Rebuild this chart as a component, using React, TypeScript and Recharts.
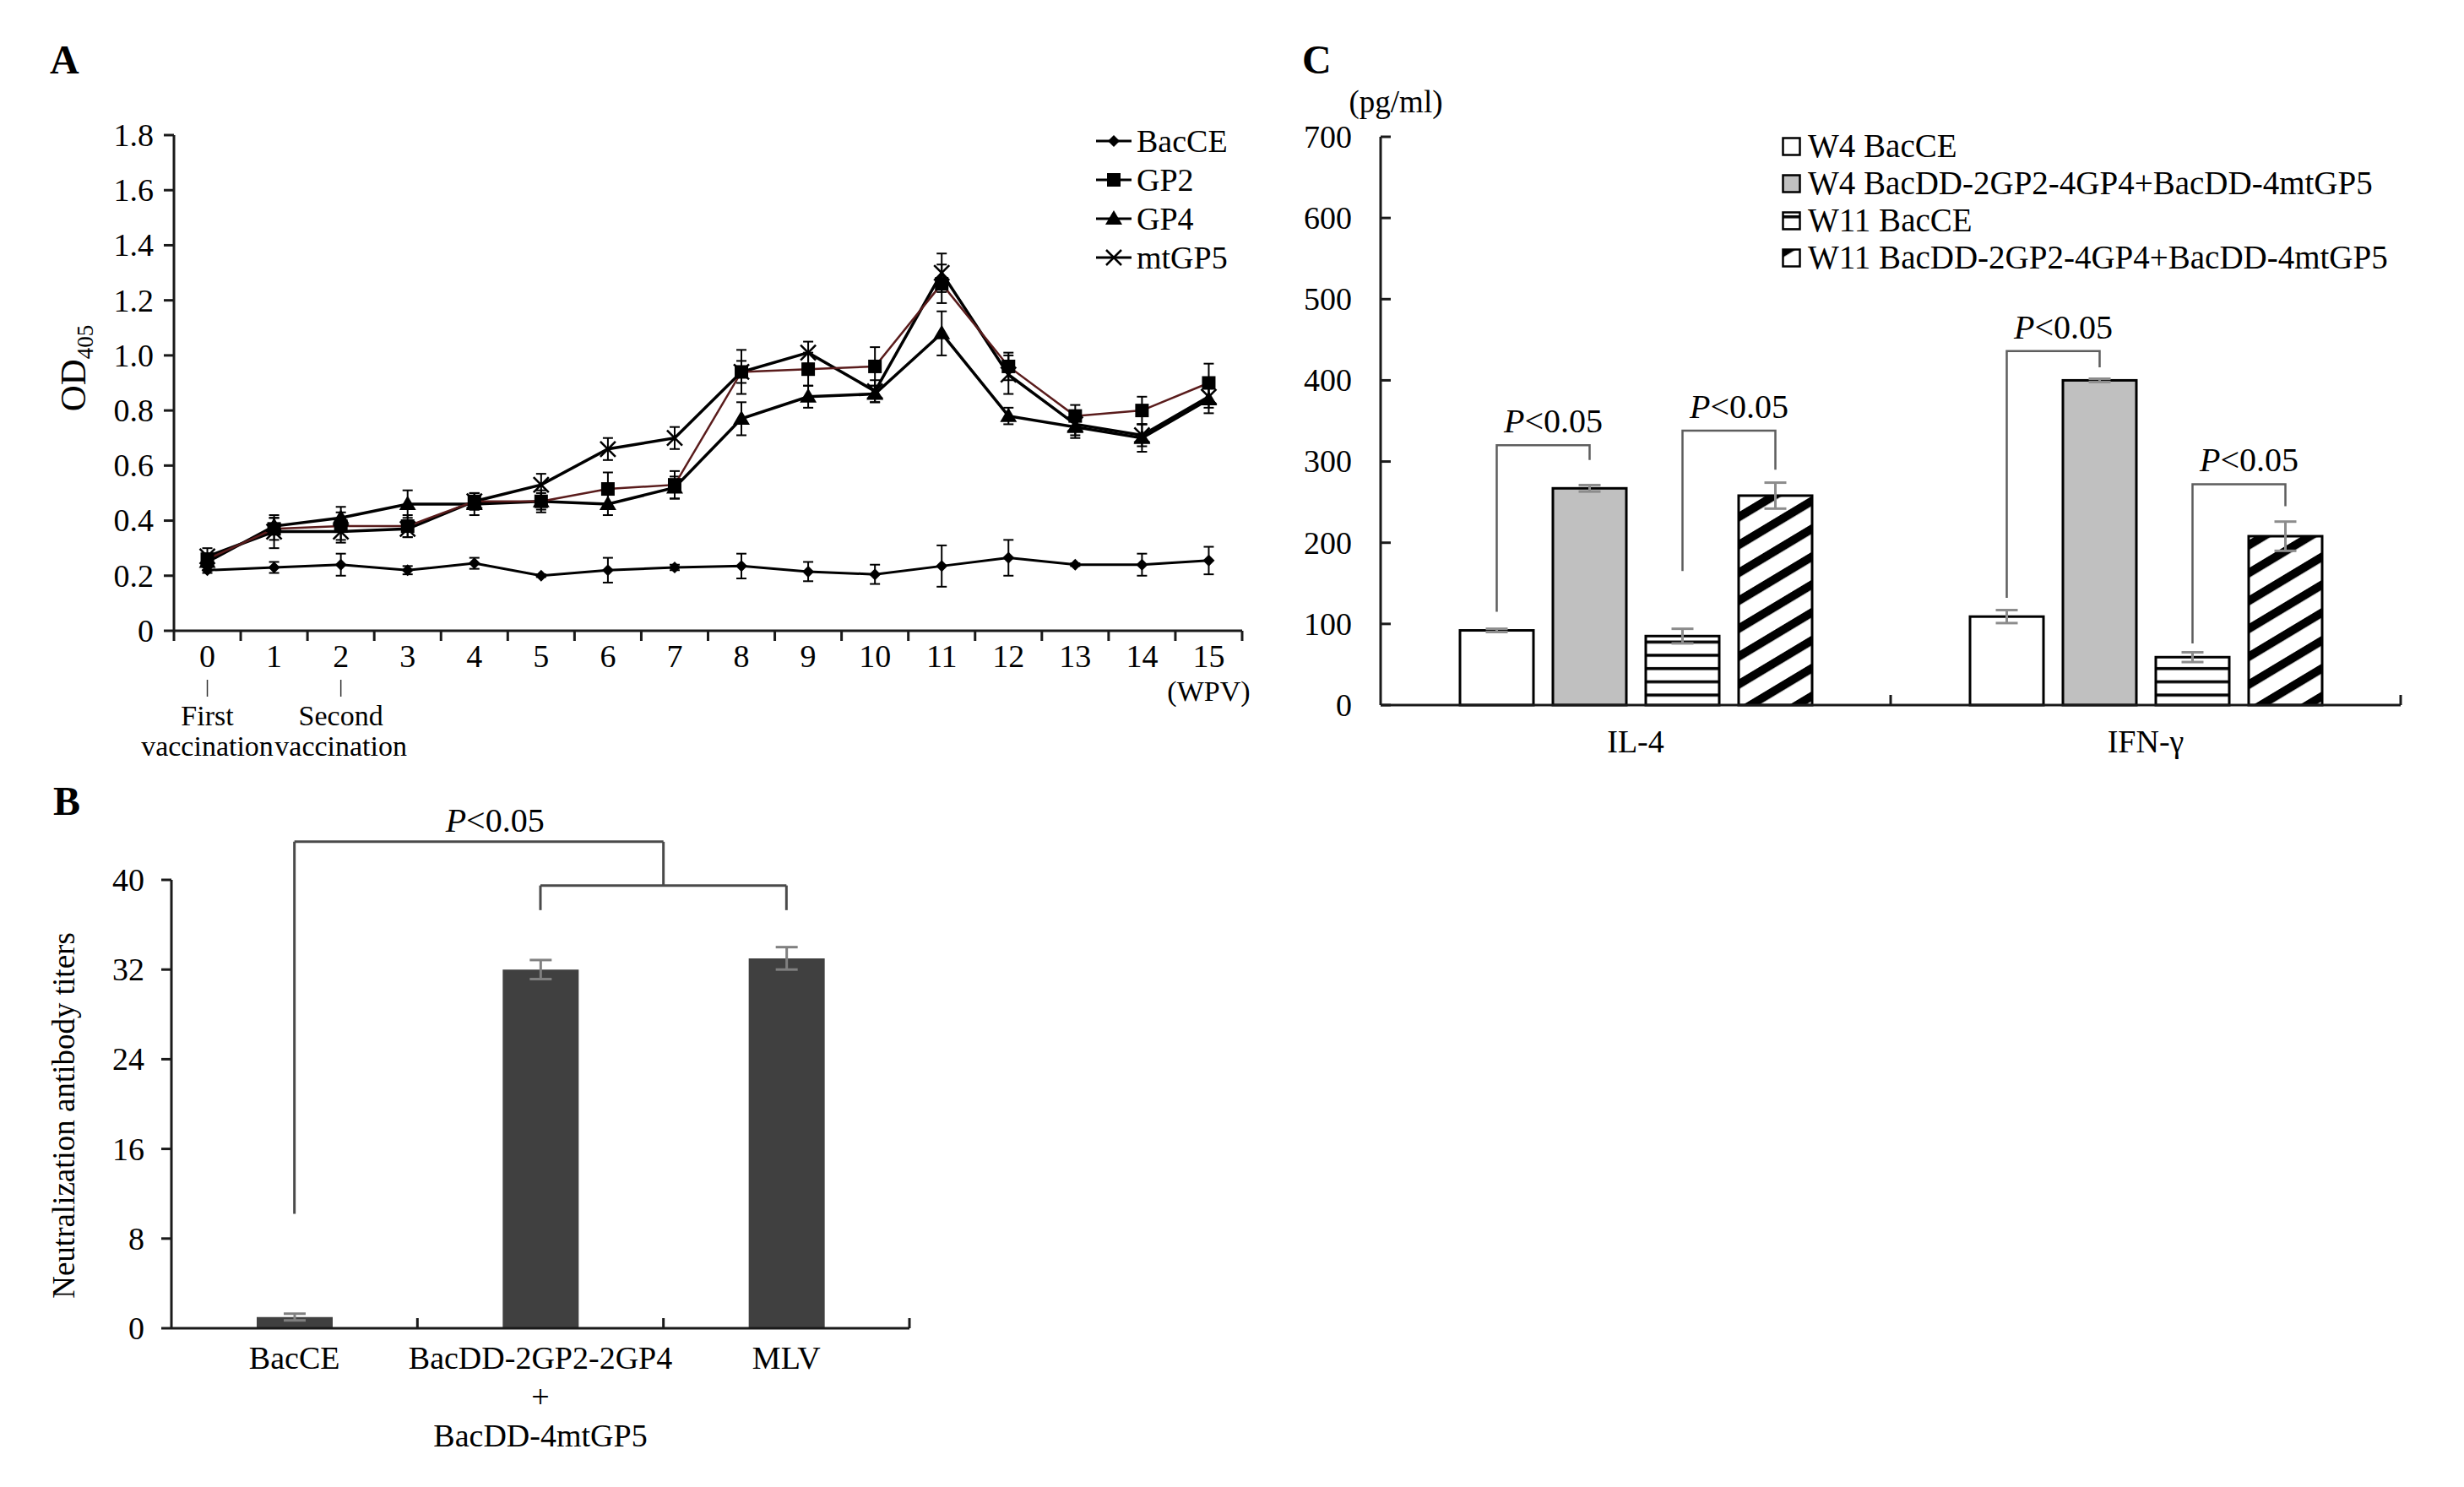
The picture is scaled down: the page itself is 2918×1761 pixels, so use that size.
import React from 'react';
import { LineChart, Line, ComposedChart, BarChart, Bar, XAxis, YAxis, ErrorBar, ReferenceLine } from 'recharts';

const FONT = '"Liberation Serif", "Times New Roman", Times, serif';
const AX = '#1a1a1a';
const TICK_FS = 38;

// ---------------- Panel A data ----------------
const weeks = [0, 1, 2, 3, 4, 5, 6, 7, 8, 9, 10, 11, 12, 13, 14, 15];
const bacCE = [0.22, 0.23, 0.24, 0.22, 0.245, 0.2, 0.22, 0.23, 0.235, 0.215, 0.205, 0.235, 0.265, 0.24, 0.24, 0.255];
const bacCEErr = [0.01, 0.02, 0.04, 0.015, 0.02, 0.005, 0.045, 0.01, 0.045, 0.035, 0.035, 0.075, 0.065, 0.005, 0.04, 0.05];
const gp2 = [0.26, 0.37, 0.38, 0.38, 0.47, 0.47, 0.515, 0.53, 0.94, 0.95, 0.96, 1.26, 0.96, 0.78, 0.8, 0.9];
const gp2Err = [0.02, 0.04, 0.05, 0.04, 0.03, 0.03, 0.06, 0.05, 0.08, 0.06, 0.07, 0.07, 0.05, 0.04, 0.05, 0.07];
const gp4 = [0.25, 0.38, 0.41, 0.46, 0.46, 0.47, 0.46, 0.52, 0.77, 0.85, 0.86, 1.08, 0.78, 0.74, 0.7, 0.84];
const gp4Err = [0.03, 0.03, 0.04, 0.05, 0.04, 0.04, 0.04, 0.04, 0.06, 0.04, 0.03, 0.08, 0.03, 0.04, 0.05, 0.05];
const mtGP5 = [0.27, 0.36, 0.36, 0.37, 0.47, 0.53, 0.66, 0.7, 0.94, 1.01, 0.87, 1.3, 0.93, 0.75, 0.71, 0.85];
const mtGP5Err = [0.03, 0.06, 0.04, 0.03, 0.03, 0.04, 0.04, 0.04, 0.04, 0.04, 0.04, 0.07, 0.07, 0.04, 0.04, 0.04];
const yTicksA = [0, 0.2, 0.4, 0.6, 0.8, 1.0, 1.2, 1.4, 1.6, 1.8];
const seriesNamesA = ['BacCE', 'GP2', 'GP4', 'mtGP5'];
const vaccinationNotes = [
  { week: 0, lines: ['First', 'vaccination'] },
  { week: 2, lines: ['Second', 'vaccination'] },
];
const xUnitA = '(WPV)';
const yTitleA = 'OD';
const yTitleSubA = '405';

// ---------------- Panel B data ----------------
const groupsB = [['BacCE'], ['BacDD-2GP2-2GP4', '+', 'BacDD-4mtGP5'], ['MLV']];
const titersB = [1, 32, 33];
const titersErrB = [0.3, 0.85, 1.0];
const yTicksB = [0, 8, 16, 24, 32, 40];
const yTitleB = 'Neutralization antibody titers';
const bStemBottom = 10.2;
const bOuterTop = 43.4;
const bInnerTop = 39.5;
const bInnerBottom = 37.3;
const pLabel = 'P<0.05';

// ---------------- Panel C data ----------------
const cytokines = ['IL-4', 'IFN-γ'];
const w4BacCE = [92, 109];
const w4BacCEErr = [2, 8];
const w4BacDD = [267, 400];
const w4BacDDErr = [4, 2];
const w11BacCE = [85, 59];
const w11BacCEErr = [9, 6];
const w11BacDD = [258, 208];
const w11BacDDErr = [16, 18];
const yTicksC = [0, 100, 200, 300, 400, 500, 600, 700];
const legendC = ['W4 BacCE', 'W4 BacDD-2GP2-4GP4+BacDD-4mtGP5', 'W11 BacCE', 'W11 BacDD-2GP2-4GP4+BacDD-4mtGP5'];
const unitC = '(pg/ml)';
// brackets: pair 0 = W4 BacCE vs W4 BacDD, pair 1 = W11 BacCE vs W11 BacDD (per cytokine)
const pair0LeftEnd = [115, 132];
const pair0Top = [320, 436];
const pair0RightEnd = [302, 416];
const pair1LeftEnd = [165, 76];
const pair1Top = [338, 272];
const pair1RightEnd = [290, 245];

// ---------------- tables ----------------
const dataA = weeks.map((w, i) => ({
  week: w,
  bacCE: bacCE[i], bacCEErr: bacCEErr[i],
  gp2: gp2[i], gp2Err: gp2Err[i],
  gp4: gp4[i], gp4Err: gp4Err[i],
  mtGP5: mtGP5[i], mtGP5Err: mtGP5Err[i],
}));
const dataB = groupsB.map((g, i) => ({ pos: i + 0.5, titer: titersB[i], err: titersErrB[i] }));
const dataC = cytokines.map((name, i) => ({
  name,
  w4BacCE: w4BacCE[i], w4BacCEErr: w4BacCEErr[i],
  w4BacDD: w4BacDD[i], w4BacDDErr: w4BacDDErr[i],
  w11BacCE: w11BacCE[i], w11BacCEErr: w11BacCEErr[i],
  w11BacDD: w11BacDD[i], w11BacDDErr: w11BacDDErr[i],
}));
const bracketsC = [
  { leftEnd: pair0LeftEnd, top: pair0Top, rightEnd: pair0RightEnd },
  { leftEnd: pair1LeftEnd, top: pair1Top, rightEnd: pair1RightEnd },
];

// ---------------- layout ----------------
const A_W = 1520, A_H = 930;
const A_M = { top: 160, right: 49, left: 106, bottom: 0 };
const A_YW = 100, A_XH = 183;

const B_TOP = 930, B_W = 1120, B_H = 830;
const B_M = { top: 112, right: 43, left: 103, bottom: 37 };
const B_YW = 100, B_XH = 150;

const C_LEFT = 1530, C_W = 1388, C_H = 940;
const C_M = { top: 162, right: 75, left: 0, bottom: 5 };
const C_YW = 105, C_XH = 100;
const C_BAR = 87, C_GAP = 23;
const C_BAND = (C_W - C_M.left - C_M.right - C_YW) / cytokines.length;

// ---------------- markers ----------------
function Marker({ kind, cx, cy }: { kind: string; cx: number; cy: number }) {
  if (kind === 'diamond') {
    const s = 7;
    return <polygon points={`${cx},${cy - s} ${cx + s},${cy} ${cx},${cy + s} ${cx - s},${cy}`} fill="#000" />;
  }
  if (kind === 'square') {
    const s = 8;
    return <rect x={cx - s} y={cy - s} width={2 * s} height={2 * s} fill="#000" />;
  }
  if (kind === 'triangle') {
    const s = 10;
    return <polygon points={`${cx},${cy - s} ${cx + s},${cy + s * 0.7} ${cx - s},${cy + s * 0.7}`} fill="#000" />;
  }
  const s = 9;
  return (
    <g>
      <line x1={cx - s} y1={cy - s} x2={cx + s} y2={cy + s} stroke="#000" strokeWidth={2.5} />
      <line x1={cx - s} y1={cy + s} x2={cx + s} y2={cy - s} stroke="#000" strokeWidth={2.5} />
    </g>
  );
}

const seriesA = [
  { key: 'bacCE', err: 'bacCEErr', name: seriesNamesA[0], marker: 'diamond', stroke: '#000', width: 3 },
  { key: 'gp4', err: 'gp4Err', name: seriesNamesA[2], marker: 'triangle', stroke: '#000', width: 3.5 },
  { key: 'mtGP5', err: 'mtGP5Err', name: seriesNamesA[3], marker: 'cross', stroke: '#000', width: 3.5 },
  { key: 'gp2', err: 'gp2Err', name: seriesNamesA[1], marker: 'square', stroke: '#5a1c1c', width: 2.5 },
];
const legendOrderA = [
  { name: seriesNamesA[0], marker: 'diamond' },
  { name: seriesNamesA[1], marker: 'square' },
  { name: seriesNamesA[2], marker: 'triangle' },
  { name: seriesNamesA[3], marker: 'cross' },
];

const makeDot = (kind: string) => (p: any) => {
  if (p.cx == null || p.cy == null) return <g key={`${kind}-${p.index}`} />;
  return (
    <g key={`${kind}-${p.index}`}>
      <Marker kind={kind} cx={p.cx} cy={p.cy} />
    </g>
  );
};

// ---------------- ticks ----------------
const textStyle = { fontFamily: FONT, fill: '#000' };

const yTickOut = (gap: number, fmt: (v: number) => string) => (p: any) => (
  <g>
    <line x1={p.x} x2={p.x - 12} y1={p.y} y2={p.y} stroke={AX} strokeWidth={3} />
    <text x={p.x - gap} y={p.y} dy="0.34em" textAnchor="end" fontSize={TICK_FS} {...textStyle}>
      {fmt(p.payload.value)}
    </text>
  </g>
);

const yTickIn = (gap: number) => (p: any) => (
  <g>
    <line x1={p.x} x2={p.x + 12} y1={p.y} y2={p.y} stroke={AX} strokeWidth={3} />
    <text x={p.x - gap} y={p.y} dy="0.34em" textAnchor="end" fontSize={TICK_FS} {...textStyle}>
      {String(p.payload.value)}
    </text>
  </g>
);

const xTicksA = [weeks[0] - 0.5, ...weeks.flatMap((w) => [w, w + 0.5])];
const xTickA = (p: any) => {
  const v = p.payload.value;
  if (!Number.isInteger(v)) {
    return <line x1={p.x} x2={p.x} y1={p.y} y2={p.y + 12} stroke={AX} strokeWidth={3} />;
  }
  const note = vaccinationNotes.find((n) => n.week === v);
  return (
    <g>
      <text x={p.x} y={p.y + 43} textAnchor="middle" fontSize={TICK_FS} {...textStyle}>{String(v)}</text>
      {v === weeks[weeks.length - 1] && (
        <text x={p.x} y={p.y + 83} textAnchor="middle" fontSize={34} {...textStyle}>{xUnitA}</text>
      )}
      {note && (
        <g>
          <line x1={p.x} x2={p.x} y1={p.y + 58} y2={p.y + 78} stroke="#333" strokeWidth={1.5} />
          <text x={p.x} y={p.y + 112} textAnchor="middle" fontSize={34} {...textStyle}>{note.lines[0]}</text>
          <text x={p.x} y={p.y + 148} textAnchor="middle" fontSize={34} {...textStyle}>{note.lines[1]}</text>
        </g>
      )}
    </g>
  );
};

const xTicksB = [0, ...groupsB.flatMap((g, i) => [i + 0.5, i + 1])];
const xTickB = (p: any) => {
  const v = p.payload.value;
  if (Number.isInteger(v)) {
    if (v === 0) return <g />;
    return <line x1={p.x} x2={p.x} y1={p.y} y2={p.y - 12} stroke={AX} strokeWidth={3} />;
  }
  const lines = groupsB[Math.floor(v)];
  return (
    <g>
      {lines.map((t, i) => (
        <text key={i} x={p.x} y={p.y + 48 + i * 46} textAnchor="middle" fontSize={TICK_FS} {...textStyle}>{t}</text>
      ))}
    </g>
  );
};

const xTickC = (p: any) => (
  <g>
    <line x1={p.x + C_BAND / 2} x2={p.x + C_BAND / 2} y1={p.y} y2={p.y - 12} stroke={AX} strokeWidth={3} />
    <text x={p.x} y={p.y + 56} textAnchor="middle" fontSize={TICK_FS} {...textStyle}>{p.payload.value}</text>
  </g>
);

const PText = ({ x, y, size }: { x: number; y: number; size: number }) => (
  <text x={x} y={y} textAnchor="middle" fontSize={size} {...textStyle}>
    <tspan fontStyle="italic">{pLabel.charAt(0)}</tspan>
    {pLabel.slice(1)}
  </text>
);

// ---------------- Panel C bar shapes ----------------
const cFills = ['#ffffff', '#c0c0c0', 'url(#hlinesC)', 'url(#diagC)'];
const cValues = [w4BacCE, w4BacDD, w11BacCE, w11BacDD];
const barShapeC = (si: number) => (p: any) => {
  const { x, y, width, height, index } = p;
  const rect = <rect x={x} y={y} width={width} height={height} fill={cFills[si]} stroke="#000" strokeWidth={3} />;
  if (si !== 0 && si !== 2) return rect;
  const b = bracketsC[si === 0 ? 0 : 1];
  const val = cValues[si][index];
  const base = y + height;
  const ppu = height / val;
  const Y = (v: number) => base - v * ppu;
  const x0 = x + width / 2;
  const x1 = x0 + width + C_GAP;
  const top = Y(b.top[index]);
  return (
    <g>
      {rect}
      <path
        d={`M${x0},${Y(b.leftEnd[index])} V${top} H${x1} V${Y(b.rightEnd[index])}`}
        fill="none"
        stroke="#5e5e5e"
        strokeWidth={2.5}
      />
      <PText x={(x0 + x1) / 2 + 12} y={top - 15} size={40} />
    </g>
  );
};

// ---------------- B bracket label ----------------
const bPLabel = (p: any) => {
  const vb = p.viewBox || {};
  const cx = (vb.x ?? 0) + (vb.width ?? 0) / 2 + 19;
  return <PText x={cx} y={(vb.y ?? 0) - 12} size={40} />;
};

export default function App() {
  const gB = dataB.map((d) => d.pos);
  const midB = (gB[1] + gB[2]) / 2;
  const bracketStroke = '#4a4a4a';
  return (
    <div style={{ position: 'absolute', left: 0, top: 0, width: 2918, height: 1761, background: '#fff', overflow: 'hidden' }}>
      <svg width={0} height={0} style={{ position: 'absolute' }}>
        <defs>
          <pattern id="hlinesC" patternUnits="userSpaceOnUse" width={20} height={15.7}>
            <rect width={20} height={15.7} fill="#fff" />
            <rect y={5} width={20} height={3.5} fill="#000" />
          </pattern>
          <pattern id="diagC" patternUnits="userSpaceOnUse" width={30} height={28.3} patternTransform="rotate(-31)">
            <rect width={30} height={28.3} fill="#fff" />
            <rect y={0} width={30} height={10} fill="#000" />
          </pattern>
        </defs>
      </svg>

      {/* Panel A */}
      <div style={{ position: 'absolute', left: 0, top: 0 }}>
        <LineChart width={A_W} height={A_H} data={dataA} margin={A_M}>
          <XAxis
            type="number"
            dataKey="week"
            domain={[weeks[0] - 0.5, weeks[weeks.length - 1] + 0.5]}
            ticks={xTicksA}
            interval={0}
            tickLine={false}
            tickSize={0}
            tickMargin={0}
            tick={xTickA}
            height={A_XH}
            axisLine={{ stroke: AX, strokeWidth: 3 }}
          />
          <YAxis
            type="number"
            domain={[0, 1.8]}
            ticks={yTicksA}
            interval={0}
            tickLine={false}
            tickSize={0}
            tickMargin={0}
            width={A_YW}
            tick={yTickOut(24, (v) => (v === 0 ? '0' : v.toFixed(1)))}
            axisLine={{ stroke: AX, strokeWidth: 3 }}
          />
          {seriesA.map((s) => (
            <Line
              key={s.key}
              type="linear"
              dataKey={s.key}
              name={s.name}
              stroke={s.stroke}
              strokeWidth={s.width}
              dot={makeDot(s.marker)}
              activeDot={false}
              isAnimationActive={false}
            >
              <ErrorBar dataKey={s.err} direction="y" width={6} stroke="#000" strokeWidth={2} />
            </Line>
          ))}
        </LineChart>
      </div>
      <div style={{ position: 'absolute', left: 1298, top: 144 }}>
        {legendOrderA.map((s) => (
          <div key={s.name} style={{ display: 'flex', alignItems: 'center', height: 46 }}>
            <svg width={44} height={24}>
              <line x1={0} x2={42} y1={12} y2={12} stroke="#000" strokeWidth={3} />
              <Marker kind={s.marker} cx={21} cy={12} />
            </svg>
            <span style={{ fontFamily: FONT, fontSize: 38, marginLeft: 4, lineHeight: '46px', color: '#000' }}>{s.name}</span>
          </div>
        ))}
      </div>

      {/* Panel B */}
      <div style={{ position: 'absolute', left: 0, top: B_TOP }}>
        <ComposedChart width={B_W} height={B_H} data={dataB} margin={B_M}>
          <XAxis
            type="number"
            dataKey="pos"
            domain={[0, groupsB.length]}
            ticks={xTicksB}
            interval={0}
            tickLine={false}
            tickSize={0}
            tickMargin={0}
            tick={xTickB}
            height={B_XH}
            axisLine={{ stroke: AX, strokeWidth: 3 }}
          />
          <YAxis
            type="number"
            domain={[0, 40]}
            ticks={yTicksB}
            interval={0}
            tickLine={false}
            tickSize={0}
            tickMargin={0}
            width={B_YW}
            tick={yTickOut(32, (v) => String(v))}
            axisLine={{ stroke: AX, strokeWidth: 3 }}
          />
          <Bar dataKey="titer" barSize={90} fill="#404040" isAnimationActive={false}>
            <ErrorBar dataKey="err" direction="y" width={13} stroke="#808080" strokeWidth={3} />
          </Bar>
          <ReferenceLine segment={[{ x: gB[0], y: bStemBottom }, { x: gB[0], y: bOuterTop }]} stroke={bracketStroke} strokeWidth={3} ifOverflow="visible" />
          <ReferenceLine
            segment={[{ x: gB[0], y: bOuterTop }, { x: midB, y: bOuterTop }]}
            stroke={bracketStroke}
            strokeWidth={3}
            ifOverflow="visible"
            label={bPLabel}
          />
          <ReferenceLine segment={[{ x: midB, y: bOuterTop }, { x: midB, y: bInnerTop }]} stroke={bracketStroke} strokeWidth={3} ifOverflow="visible" />
          <ReferenceLine segment={[{ x: gB[1], y: bInnerTop }, { x: gB[2], y: bInnerTop }]} stroke={bracketStroke} strokeWidth={3} ifOverflow="visible" />
          <ReferenceLine segment={[{ x: gB[1], y: bInnerTop }, { x: gB[1], y: bInnerBottom }]} stroke={bracketStroke} strokeWidth={3} ifOverflow="visible" />
          <ReferenceLine segment={[{ x: gB[2], y: bInnerTop }, { x: gB[2], y: bInnerBottom }]} stroke={bracketStroke} strokeWidth={3} ifOverflow="visible" />
        </ComposedChart>
      </div>

      {/* Panel C */}
      <div style={{ position: 'absolute', left: C_LEFT, top: 0 }}>
        <BarChart width={C_W} height={C_H} data={dataC} margin={C_M} barGap={C_GAP}>
          <XAxis
            dataKey="name"
            tickLine={false}
            tickSize={0}
            tickMargin={0}
            tick={xTickC}
            height={C_XH}
            interval={0}
            axisLine={{ stroke: AX, strokeWidth: 3 }}
          />
          <YAxis
            type="number"
            domain={[0, 700]}
            ticks={yTicksC}
            interval={0}
            tickLine={false}
            tickSize={0}
            tickMargin={0}
            width={C_YW}
            tick={yTickIn(34)}
            axisLine={{ stroke: AX, strokeWidth: 3 }}
          />
          <Bar dataKey="w4BacCE" barSize={C_BAR} fill="#fff" shape={barShapeC(0)} isAnimationActive={false}>
            <ErrorBar dataKey="w4BacCEErr" direction="y" width={13} stroke="#8c8c8c" strokeWidth={3} />
          </Bar>
          <Bar dataKey="w4BacDD" barSize={C_BAR} fill="#c0c0c0" shape={barShapeC(1)} isAnimationActive={false}>
            <ErrorBar dataKey="w4BacDDErr" direction="y" width={13} stroke="#8c8c8c" strokeWidth={3} />
          </Bar>
          <Bar dataKey="w11BacCE" barSize={C_BAR} fill="#fff" shape={barShapeC(2)} isAnimationActive={false}>
            <ErrorBar dataKey="w11BacCEErr" direction="y" width={13} stroke="#8c8c8c" strokeWidth={3} />
          </Bar>
          <Bar dataKey="w11BacDD" barSize={C_BAR} fill="#000" shape={barShapeC(3)} isAnimationActive={false}>
            <ErrorBar dataKey="w11BacDDErr" direction="y" width={13} stroke="#8c8c8c" strokeWidth={3} />
          </Bar>
        </BarChart>
      </div>
      <div style={{ position: 'absolute', left: 2110, top: 151 }}>
        {legendC.map((t, i) => (
          <div key={t} style={{ display: 'flex', alignItems: 'center', height: 44 }}>
            <svg width={23} height={23}>
              <rect x={1.5} y={1.5} width={20} height={20} fill={cFills[i]} stroke="#000" strokeWidth={2.5} />
            </svg>
            <span style={{ fontFamily: FONT, fontSize: 39, marginLeft: 8, lineHeight: '44px', color: '#000', whiteSpace: 'nowrap' }}>{t}</span>
          </div>
        ))}
      </div>

      {/* titles overlay */}
      <svg width={2918} height={1761} style={{ position: 'absolute', left: 0, top: 0, pointerEvents: 'none' }}>
        <text x={59} y={87} fontSize={48} fontWeight="bold" {...textStyle}>A</text>
        <text x={63} y={965} fontSize={48} fontWeight="bold" {...textStyle}>B</text>
        <text x={1542} y={87} fontSize={48} fontWeight="bold" {...textStyle}>C</text>
        <text transform="translate(101,436) rotate(-90)" textAnchor="middle" fontSize={43} {...textStyle}>
          {yTitleA}
          <tspan fontSize={27} dy={9}>{yTitleSubA}</tspan>
        </text>
        <text transform="translate(88,1321) rotate(-90)" textAnchor="middle" fontSize={37} {...textStyle}>
          {yTitleB}
        </text>
        <text x={1653} y={133} textAnchor="middle" fontSize={37} {...textStyle}>{unitC}</text>
      </svg>
    </div>
  );
}
